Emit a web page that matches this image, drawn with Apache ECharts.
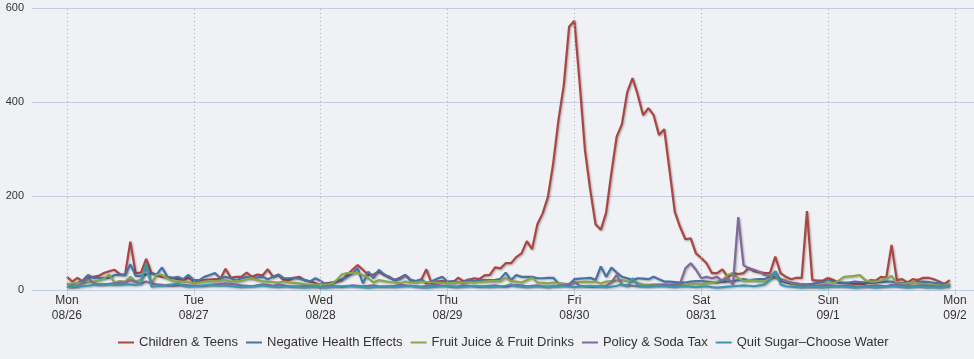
<!DOCTYPE html>
<html>
<head>
<meta charset="utf-8">
<script src="https://cdn.jsdelivr.net/npm/echarts@6/dist/echarts.min.js"></script>
<style>
html,body{margin:0;padding:0;background:#f0f1f4;}
#chart{width:974px;height:359px;}
</style>
</head>
<body>
<div id="chart"></div>
<script>
// Hourly values starting Mon 08/26 00:00 (hour index 0..167)
var seriesNames = ['Children & Teens', 'Negative Health Effects', 'Fruit Juice & Fruit Drinks', 'Policy & Soda Tax', 'Quit Sugar\u2013Choose Water'];
var seriesColors = ['#AA4643', '#4572A7', '#89A54E', '#80699B', '#3D96AE'];

var childrenTeens = [
  28,18,26,18,26,28,30,36,40,43,
  34,32,103,36,37,66,36,32,28,26,
  26,23,21,26,18,19,21,22,23,23,
  45,26,28,28,37,28,33,31,44,28,
  32,21,21,26,28,21,18,15,11,14,
  16,18,21,32,43,53,43,32,33,39,
  32,28,21,26,32,21,18,21,44,14,
  18,19,17,16,26,19,21,25,23,31,
  32,48,46,57,57,70,78,104,87,140,
  163,198,270,362,436,560,573,440,298,213,
  140,128,164,249,326,353,421,451,415,372,
  387,372,330,342,255,166,134,108,110,78,
  68,57,36,36,44,28,36,34,36,47,
  40,38,36,36,71,36,28,23,26,26,
  168,21,20,20,26,21,16,15,15,13,
  13,13,21,20,28,26,96,21,23,16,
  23,21,26,26,23,18,13,21
];
var negativeHealth = [
  13,12,15,20,32,26,26,26,26,32,
  32,32,55,30,30,33,36,33,48,28,
  26,28,23,32,21,21,28,32,36,25,
  28,25,20,25,28,25,27,28,23,28,
  33,25,25,26,24,21,18,25,19,12,
  15,18,23,28,35,46,14,39,25,43,
  33,26,21,23,32,21,19,23,14,18,
  24,28,18,19,17,16,23,18,21,21,
  21,21,24,37,21,32,28,28,28,25,
  25,26,26,14,13,12,23,24,25,26,
  21,50,28,48,37,28,25,21,25,24,
  23,28,23,18,18,17,16,16,18,19,
  19,18,17,16,18,18,19,21,23,21,
  22,23,23,28,39,20,16,14,13,12,
  12,13,15,17,21,18,16,15,16,18,
  17,16,15,16,17,18,18,16,15,14,
  16,17,18,17,15,14,13,12
];
var fruitJuice = [
  12,14,14,15,16,18,20,24,33,16,
  19,18,28,18,22,50,14,33,32,25,
  19,18,18,17,14,16,18,19,19,20,
  21,18,19,19,23,25,21,19,18,17,
  16,18,16,15,14,12,11,11,12,11,
  13,21,33,36,36,36,32,25,16,21,
  19,17,16,14,18,16,16,18,17,16,
  16,15,14,15,16,16,16,16,17,18,
  19,19,19,26,19,18,16,21,26,16,
  15,14,16,14,12,13,16,17,18,17,
  18,14,18,19,20,21,19,18,15,12,
  11,12,12,12,11,12,12,11,13,13,
  12,14,16,18,21,32,36,25,19,21,
  20,19,18,25,26,23,21,14,12,11,
  8,7,9,11,18,14,20,28,29,30,
  32,21,18,18,20,24,30,14,13,14,
  16,14,13,12,11,9,10,13
];
var policySodaTax = [
  7,6,7,15,25,15,12,12,13,14,
  15,16,21,17,14,18,14,12,11,10,
  9,10,11,10,9,9,9,11,12,13,
  14,13,12,10,9,8,10,12,11,9,
  12,10,8,7,8,9,8,7,6,8,
  9,8,7,8,10,9,8,9,10,8,
  7,8,9,11,10,9,8,7,9,10,
  11,9,8,7,8,10,9,8,7,8,
  9,10,8,7,9,11,10,8,9,10,
  8,7,9,8,10,12,18,9,8,7,
  7,8,9,16,32,11,10,9,8,8,
  9,9,10,11,11,12,14,46,57,43,
  25,28,25,28,19,26,11,155,53,46,
  43,39,32,30,28,22,18,16,14,12,
  11,10,9,10,11,9,8,9,10,8,
  7,8,9,10,9,8,11,12,10,9,
  8,9,10,9,8,7,8,9
];
var quitSugar = [
  6,7,7,8,9,11,11,12,12,11,
  11,12,12,11,13,57,7,8,9,11,
  12,14,9,7,8,8,10,11,10,9,
  9,8,7,6,7,8,9,10,8,7,
  6,7,8,7,6,5,6,7,6,5,
  6,7,8,9,8,7,6,5,6,7,
  8,7,6,7,8,9,7,6,5,6,
  7,8,9,7,6,7,8,9,8,7,
  6,7,8,9,12,8,7,6,7,8,
  7,6,7,8,9,7,6,7,8,9,
  8,7,6,7,9,12,8,25,10,8,
  7,8,9,8,7,6,7,8,7,6,
  7,8,6,5,6,7,8,9,10,9,
  8,10,12,22,40,12,8,7,6,5,
  6,7,6,5,6,7,8,7,6,5,
  6,7,6,5,6,7,8,7,6,5,
  6,7,6,5,6,5,6,7
];

var tickHours = [0, 24, 48, 72, 96, 120, 144, 168];
var tickLabels = ['Mon\n08/26', 'Tue\n08/27', 'Wed\n08/28', 'Thu\n08/29', 'Fri\n08/30', 'Sat\n08/31', 'Sun\n09/1', 'Mon\n09/2'];
var yTicks = [0, 200, 400, 600];

var allValues = [childrenTeens, negativeHealth, fruitJuice, policySodaTax, quitSugar];

var chart = echarts.init(document.getElementById('chart'), null, {renderer: 'canvas'});

var series = [{
  type: 'line',
  name: '_days',
  data: [],
  z: 1,
  silent: true,
  markLine: {
    silent: true,
    symbol: ['none', 'none'],
    label: {show: false},
    animation: false,
    lineStyle: {type: [1, 3], color: '#9fb0d6', width: 1},
    data: tickHours.map(function (h) { return {xAxis: h}; })
  }
}];
allValues.forEach(function (vals, k) {
  series.push({
    type: 'line',
    name: seriesNames[k],
    data: vals.map(function (v, i) { return [i, v]; }),
    symbol: 'none',
    showSymbol: false,
    z: 2 + k,
    color: seriesColors[k],
    lineStyle: {
      width: 2.2,
      color: seriesColors[k],
      shadowColor: 'rgba(0,0,0,0.3)',
      shadowBlur: 2,
      shadowOffsetX: 1,
      shadowOffsetY: 1
    }
  });
});

chart.setOption({
  backgroundColor: '#f0f1f4',
  animation: false,
  textStyle: {fontFamily: 'Liberation Sans, Arial, sans-serif'},
  grid: {left: 32, right: 0, top: 8, bottom: 69, containLabel: false},
  legend: {
    data: seriesNames,
    left: 113,
    top: 331,
    icon: 'rect',
    itemWidth: 16,
    itemHeight: 2,
    itemGap: 8,
    textStyle: {fontSize: 13, color: '#333', fontFamily: 'Liberation Sans, Arial, sans-serif'}
  },
  xAxis: {
    type: 'value',
    min: -6.6,
    max: 171.6,
    splitLine: {show: false},
    axisLine: {show: true, lineStyle: {color: '#c0cfe3', width: 1}},
    axisTick: {show: true, length: 5, lineStyle: {color: '#c0cfe3'}, customValues: tickHours},
    axisLabel: {
      customValues: tickHours,
      margin: 3,
      fontSize: 12,
      lineHeight: 15,
      color: '#333',
      formatter: function (v) {
        var idx = tickHours.indexOf(Math.round(v));
        return idx >= 0 ? tickLabels[idx] : '';
      }
    }
  },
  yAxis: {
    type: 'value',
    min: yTicks[0],
    max: yTicks[yTicks.length - 1],
    interval: 200,
    axisLine: {show: false},
    axisTick: {show: false},
    splitLine: {lineStyle: {color: '#c3cee2', width: 1}},
    axisLabel: {margin: 8, fontSize: 11, color: '#333'}
  },
  series: series
});
</script>
</body>
</html>
